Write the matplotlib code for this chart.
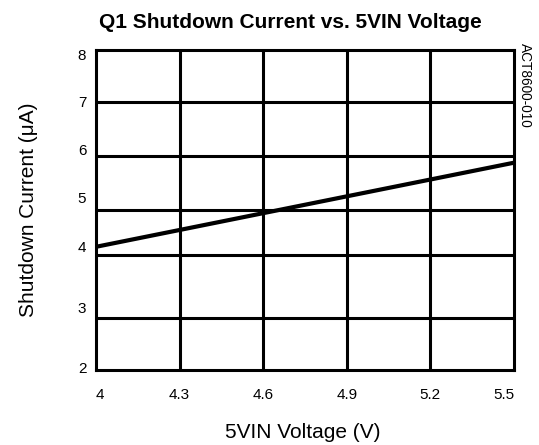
import numpy as np
import matplotlib
matplotlib.use("Agg")
import matplotlib.pyplot as plt

plt.rcParams['font.family'] = ['Liberation Sans', 'DejaVu Sans']

# data
voltage = [4.0, 5.5]
current = [4.0, 5.73]

x_ticks = [4, 4.3, 4.6, 4.9, 5.2, 5.5]
x_labels = ['4', '4.3', '4.6', '4.9', '5.2', '5.5']
y_ticks = [2, 3, 4, 5, 6, 7, 8]

# the original axis is not evenly spaced: where each label sits on a linear track
y_vals_ext = [1.965, 2, 3, 4, 5, 6, 7, 8, 8.1]
y_pos_ext = [2.0, 2.04, 3.18, 4.31, 5.23, 6.13, 7.03, 7.91, 8.0]
h_grid = [7.0, 5.87, 4.75, 3.87, 2.82]

def fwd(v):
    return np.interp(v, y_vals_ext, y_pos_ext)

def inv(p):
    return np.interp(p, y_pos_ext, y_vals_ext)

fig = plt.figure(figsize=(5.39, 4.45), dpi=100)
ax = fig.add_axes([96 / 539, 1 - 370 / 445, (514 - 96) / 539, 320 / 445])

ax.set_yscale('function', functions=(fwd, inv))
ax.set_xlim(4, 5.5)
ax.set_ylim(1.965, 8.1)

for g in h_grid:
    ax.axhline(g, color='black', lw=2.2, zorder=1)
for xv in x_ticks[1:-1]:
    ax.axvline(xv, color='black', lw=2.2, zorder=1)

ax.plot(voltage, current, color='black', lw=3.0, solid_capstyle='butt', zorder=3)

for s in ax.spines.values():
    s.set_linewidth(2.2)

ax.set_xticks(x_ticks)
ax.set_xticklabels(x_labels)
ax.set_yticks(y_ticks)
ax.set_yticklabels([str(v) for v in y_ticks])
ax.yaxis.set_minor_locator(matplotlib.ticker.NullLocator())
ax.tick_params(axis='both', length=0, labelsize=11)
ax.tick_params(axis='x', pad=13)
ax.tick_params(axis='y', pad=7)
tl = ax.get_xticklabels()
tl[0].set_horizontalalignment('left')
tl[-1].set_horizontalalignment('right')

fig.text(290 / 539, 1 - 28 / 445, 'Q1 Shutdown Current vs. 5VIN Voltage',
         ha='center', va='baseline', fontsize=15, fontweight='bold')
fig.text(303 / 539, 1 - 438 / 445, '5VIN Voltage (V)',
         ha='center', va='baseline', fontsize=15)
fig.text(38 / 539, 1 - 210 / 445, 'Shutdown Current (μA)',
         ha='right', va='center', rotation=90, fontsize=15)
fig.text(525 / 539, 1 - 43 / 445, 'ACT8600-010',
         ha='center', va='top', rotation=-90, fontsize=9.8)

fig.savefig('out.png', dpi=100)
